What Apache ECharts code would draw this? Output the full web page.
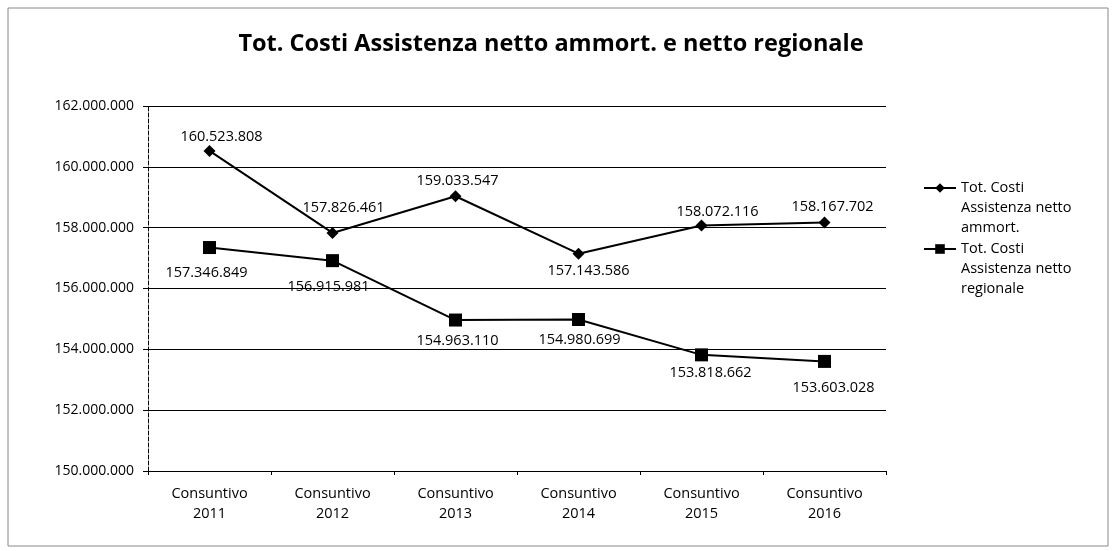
<!DOCTYPE html>
<html><head><meta charset="utf-8">
<script src="https://cdn.jsdelivr.net/npm/echarts@6/dist/echarts.min.js"></script>
<style>html,body{margin:0;padding:0;background:#fff}#c{width:1114px;height:551px}</style>
</head><body><div id="c"></div>
<script>
const categories = ['Consuntivo 2011','Consuntivo 2012','Consuntivo 2013','Consuntivo 2014','Consuntivo 2015','Consuntivo 2016'];
const seriesAmmort = [160523808, 157826461, 159033547, 157143586, 158072116, 158167702];
const seriesRegionale = [157346849, 156915981, 154963110, 154980699, 153818662, 153603028];
const seriesNames = ['Tot. Costi Assistenza netto ammort.', 'Tot. Costi Assistenza netto regionale'];
const legendLines = {
  'Tot. Costi Assistenza netto ammort.': ['Tot. Costi', 'Assistenza netto', 'ammort.'],
  'Tot. Costi Assistenza netto regionale': ['Tot. Costi', 'Assistenza netto', 'regionale']
};
const yTicks = [150000000, 152000000, 154000000, 156000000, 158000000, 160000000, 162000000];

// label placement (layout only): [dx, dy] of the label centre relative to the point
const labelLayout = [
  [[12,-14],[11,-25],[2,-15],[10,17],[16,-14],[8,-16]],
  [[-3,25],[-4,26],[2,21],[1,20],[9,18],[9,26]]
];

const FONT = '"Open Sans", Lato, sans-serif';
function fmt(v){ return String(Math.round(v)).replace(/\B(?=(\d{3})+(?!\d))/g, '.'); }
function withLabels(values, s){
  return values.map(function(v,i){ return {value:v, label:{offset:labelLayout[s][i]}}; });
}

const chart = echarts.init(document.getElementById('c'));
chart.setOption({
  animation:false,
  textStyle:{fontFamily:FONT, color:'#000'},
  title:{text:'Tot. Costi Assistenza netto ammort. e netto regionale', left:546, top:27, textAlign:'center',
    textStyle:{fontFamily:FONT, fontSize:23.5, fontWeight:'bold', color:'#000'}},
  graphic:[{type:'rect', shape:{x:8,y:8,width:1100,height:538}, style:{fill:'none', stroke:'#888', lineWidth:1}}],
  grid:{left:148, right:228, top:106, bottom:80},
  legend:{orient:'vertical', left:918, top:133, itemGap:-39, itemWidth:32, itemHeight:12,
    textStyle:{fontFamily:FONT, fontSize:14.5, color:'#000', lineHeight:20},
    formatter:function(n){ return '\n\n' + legendLines[n].join('\n'); },
    data:seriesNames},
  xAxis:{type:'category', data:categories, boundaryGap:true,
    axisLine:{lineStyle:{color:'#000', width:1}},
    axisTick:{show:true, alignWithLabel:false, length:4, lineStyle:{color:'#000'}},
    axisLabel:{fontFamily:FONT, fontSize:14.5, color:'#000', lineHeight:20, margin:13,
      formatter:function(v){ return v.replace(' ', '\n'); }}},
  yAxis:{type:'value', min:yTicks[0], max:yTicks[yTicks.length-1], interval:2000000,
    axisLine:{show:true, lineStyle:{color:'#000', width:1, type:'dashed'}},
    axisTick:{show:true, length:5, lineStyle:{color:'#000'}},
    splitLine:{lineStyle:{color:'#000', width:1}},
    axisLabel:{fontFamily:FONT, fontSize:14, color:'#000', margin:14, formatter:fmt}},
  series:[
    {name:seriesNames[0], type:'line', symbol:'diamond', symbolSize:12, z:3,
      lineStyle:{color:'#000', width:2}, itemStyle:{color:'#000'},
      data:withLabels(seriesAmmort, 0),
      label:{show:true, position:'inside', fontFamily:FONT, fontSize:14.5, color:'#000', formatter:function(p){return fmt(p.value);}}},
    {name:seriesNames[1], type:'line', symbol:'rect', symbolSize:13, z:3,
      lineStyle:{color:'#000', width:2}, itemStyle:{color:'#000'},
      data:withLabels(seriesRegionale, 1),
      label:{show:true, position:'inside', fontFamily:FONT, fontSize:14.5, color:'#000', formatter:function(p){return fmt(p.value);}}}
  ]
});
</script></body></html>
